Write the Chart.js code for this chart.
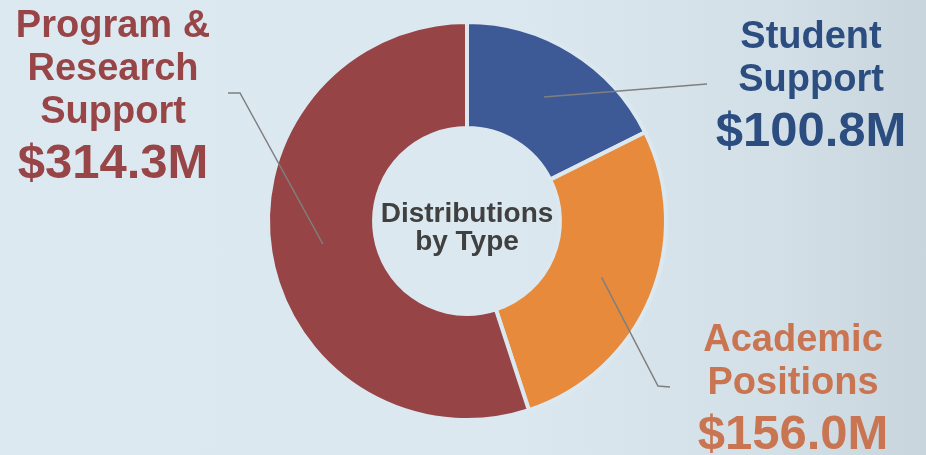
<!DOCTYPE html>
<html>
<head>
<meta charset="utf-8">
<script src="https://cdn.jsdelivr.net/npm/chart.js@4"></script>
<style>
  html, body { margin: 0; padding: 0; }
  body {
    width: 926px;
    height: 455px;
    overflow: hidden;
    background: linear-gradient(90deg, #dde9f1 0%, #dce8f0 55%, #d3dfe7 85%, #c9d5dd 100%);
  }
  canvas { display: block; }
</style>
</head>
<body>
<canvas id="distCha" width="926" height="455"></canvas>
<script>
const categories = ['Student Support', 'Academic Positions', 'Program & Research Support'];
const amounts = [100.8, 156.0, 314.3];
const labelLines = [['Student', 'Support'], ['Academic', 'Positions'], ['Program &', 'Research', 'Support']];
const valueLabels = ['$100.8M', '$156.0M', '$314.3M'];
const centerTitle = ['Distributions', 'by Type'];

const sliceColors = ['#3d5a96', '#e78a3c', '#964446'];
const textColors = ['#2c4d80', '#c97552', '#984547'];

// where each callout sits: leader elbow/end + text block
const callouts = [
  { elbow: null, end: [707, 84], x: 811, y: 48 },
  { elbow: [658, 386], end: [670, 387], x: 793, y: 351 },
  { elbow: [240, 93], end: [228, 93], x: 113, y: 37 }
];

const FONT = '"Liberation Sans", Arial, sans-serif';

const calloutPlugin = {
  id: 'callouts',
  afterDatasetsDraw(chart) {
    const ctx = chart.ctx;
    const meta = chart.getDatasetMeta(0);
    ctx.save();

    // leader lines from slice centroid
    ctx.strokeStyle = '#7f7f7f';
    ctx.lineWidth = 1.5;
    meta.data.forEach((arc, i) => {
      const p = arc.tooltipPosition();
      const c = callouts[i];
      ctx.beginPath();
      ctx.moveTo(p.x, p.y);
      if (c.elbow) ctx.lineTo(c.elbow[0], c.elbow[1]);
      ctx.lineTo(c.end[0], c.end[1]);
      ctx.stroke();
    });

    // labels
    ctx.textAlign = 'center';
    ctx.textBaseline = 'alphabetic';
    categories.forEach((cat, i) => {
      const c = callouts[i];
      ctx.fillStyle = textColors[i];
      ctx.font = 'bold 38px ' + FONT;
      let y = c.y;
      labelLines[i].forEach(line => {
        ctx.fillText(line, c.x, y);
        y += 43;
      });
      ctx.font = 'bold 49px ' + FONT;
      ctx.fillText(valueLabels[i], c.x, y + 12);
    });

    // centre title
    const cx = (chart.chartArea.left + chart.chartArea.right) / 2;
    const cy = (chart.chartArea.top + chart.chartArea.bottom) / 2;
    ctx.fillStyle = '#404040';
    ctx.font = 'bold 28px ' + FONT;
    ctx.fillText(centerTitle[0], cx, cy + 1);
    ctx.fillText(centerTitle[1], cx, cy + 29);

    ctx.restore();
  }
};

new Chart(document.getElementById('distCha').getContext('2d'), {
  type: 'doughnut',
  data: {
    labels: categories,
    datasets: [{
      data: amounts,
      backgroundColor: sliceColors,
      borderColor: '#dce8f0',
      borderWidth: 4,
      hoverOffset: 0
    }]
  },
  options: {
    responsive: false,
    animation: false,
    cutout: '46.7%',
    layout: { padding: { top: 20, bottom: 33, left: 8, right: 0 } },
    plugins: {
      legend: { display: false },
      tooltip: { enabled: false }
    }
  },
  plugins: [calloutPlugin]
});
</script>
</body>
</html>
